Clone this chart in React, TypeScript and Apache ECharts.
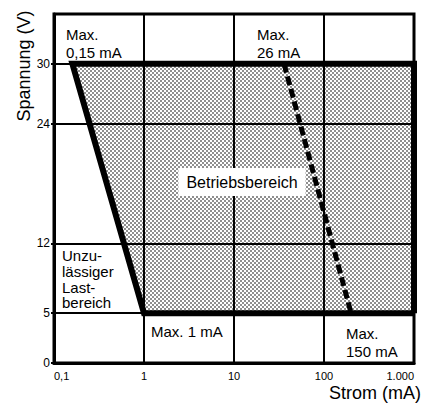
import React, { useEffect, useRef } from "react";
import * as echarts from "echarts";

// Axis ticks
const xTicks = [0.1, 1, 10, 100, 1000];
const xTickLabels = ["0,1", "1", "10", "100", "1.000"];
const yTicks = [0, 5, 12, 24, 30];
const yTickLabels = ["0", "5", "12", "24", "30"];

// Operating region (Betriebsbereich) polygon: current (mA) / voltage (V)
const regionCurrent = [0.16, 1000, 1000, 1];
const regionVoltage = [30, 30, 5, 5];

// Thick boundary outline
const boundaryCurrent = [1000, 1, 0.16, 1000, 1000];
const boundaryVoltage = [5, 5, 30, 30, 5];

// Dashed max-load line
const maxLoadCurrent = [36, 200];
const maxLoadVoltage = [30, 5];

const FONT = "'Liberation Sans', Arial, Helvetica, sans-serif";

function makePattern() {
  const svg =
    '<svg xmlns="http://www.w3.org/2000/svg" width="4" height="4">' +
    '<circle cx="1" cy="1" r="0.8" fill="#000"/>' +
    '<circle cx="3" cy="3" r="0.8" fill="#000"/>' +
    "</svg>";
  return {
    image: "data:image/svg+xml;charset=utf-8," + encodeURIComponent(svg),
    repeat: "repeat",
    imageWidth: 4,
    imageHeight: 4,
  };
}

export default function App() {
  const ref = useRef<HTMLDivElement>(null);

  useEffect(() => {
    document.body.style.margin = "0";
    if (!ref.current) return;
    const chart = echarts.init(ref.current, null, { renderer: "svg" });
    const pattern = makePattern();

    const xLabel = (v: number) => {
      for (let i = 0; i < xTicks.length; i++) {
        if (Math.abs(Math.log10(v) - Math.log10(xTicks[i])) < 0.01) return xTickLabels[i];
      }
      return "";
    };
    const yLabel = (v: number) => {
      const i = yTicks.indexOf(Math.round(v));
      return i >= 0 ? yTickLabels[i] : "";
    };

    const txt = (text: string, x: number, y: number, size: number, extra: any = {}) => ({
      type: "text",
      x,
      y,
      z: 100,
      silent: true,
      ...extra,
      style: {
        text,
        fill: "#000",
        fontFamily: FONT,
        fontSize: size,
        lineHeight: extra.lineHeight ?? Math.round(size * 1.2),
        textAlign: extra.textAlign ?? "left",
        textVerticalAlign: extra.textVerticalAlign ?? "top",
        ...(extra.style || {}),
      },
    });

    chart.setOption({
      animation: false,
      backgroundColor: "#fff",
      grid: {
        left: 54,
        right: 8,
        top: 14,
        bottom: 42,
        show: true,
        borderColor: "#000",
        borderWidth: 3,
        z: 10,
      },
      xAxis: {
        type: "log",
        logBase: 10,
        min: 0.1,
        max: 1000,
        axisLine: { show: true, lineStyle: { color: "#000", width: 3 } },
        axisTick: { show: false },
        minorTick: { show: false },
        splitLine: { show: true, lineStyle: { color: "#000", width: 2 } },
        axisLabel: {
          color: "#000",
          fontFamily: FONT,
          fontSize: 11,
          margin: 7,
          formatter: xLabel,
          showMinLabel: true,
          showMaxLabel: true,
          alignMinLabel: "left",
          alignMaxLabel: "right",
        },
      },
      yAxis: {
        type: "value",
        min: 0,
        max: 35,
        axisLine: { show: true, lineStyle: { color: "#000", width: 3 } },
        axisTick: {
          show: true,
          length: 3,
          lineStyle: { color: "#000", width: 2 },
          customValues: yTicks,
        },
        splitLine: { show: true, lineStyle: { color: "#000", width: 2 } },
        axisLabel: {
          color: "#000",
          fontFamily: FONT,
          fontSize: 12,
          margin: 4,
          customValues: yTicks,
          formatter: yLabel,
        },
      },
      series: [
        {
          type: "custom",
          coordinateSystem: "cartesian2d",
          silent: true,
          z: 1,
          encode: { x: 0, y: 1 },
          data: [[1, 10]],
          renderItem: (_params: any, api: any) => ({
            type: "polygon",
            shape: {
              points: regionCurrent.map((c, i) => api.coord([c, regionVoltage[i]])),
            },
            style: { fill: pattern, stroke: "none" },
          }),
        },
        {
          type: "line",
          silent: true,
          z: 5,
          clip: false,
          symbol: "none",
          data: boundaryCurrent.map((c, i) => [c, boundaryVoltage[i]]),
          lineStyle: { color: "#000", width: 6, join: "miter", cap: "butt" },
        },
        {
          type: "line",
          silent: true,
          z: 6,
          symbol: "none",
          data: maxLoadCurrent.map((c, i) => [c, maxLoadVoltage[i]]),
          lineStyle: { color: "#000", width: 5, type: [9, 4] },
        },
      ],
      graphic: [
        txt("Max.\n0,15 mA", 66, 25, 15, { lineHeight: 18 }),
        txt("Max.\n26 mA", 257, 25, 15, { lineHeight: 18 }),
        txt("Betriebsbereich", 242, 182, 16, {
          textAlign: "center",
          textVerticalAlign: "middle",
          style: { backgroundColor: "#fff", padding: [5, 8, 4, 8] },
        }),
        txt("Unzu-\nlässiger\nLast-\nbereich", 62, 248, 15, { lineHeight: 15.7 }),
        txt("Max. 1 mA", 151, 323, 15, { lineHeight: 17 }),
        txt("Max.\n150 mA", 346, 324, 15, { lineHeight: 18 }),
        txt("Spannung (V)", 24, 66, 18, {
          rotation: Math.PI / 2,
          textAlign: "center",
          textVerticalAlign: "middle",
        }),
        txt("Strom (mA)", 421, 393, 18, {
          textAlign: "right",
          textVerticalAlign: "middle",
        }),
      ],
    });

    return () => chart.dispose();
  }, []);

  return <div ref={ref} style={{ width: 422, height: 405 }} />;
}
